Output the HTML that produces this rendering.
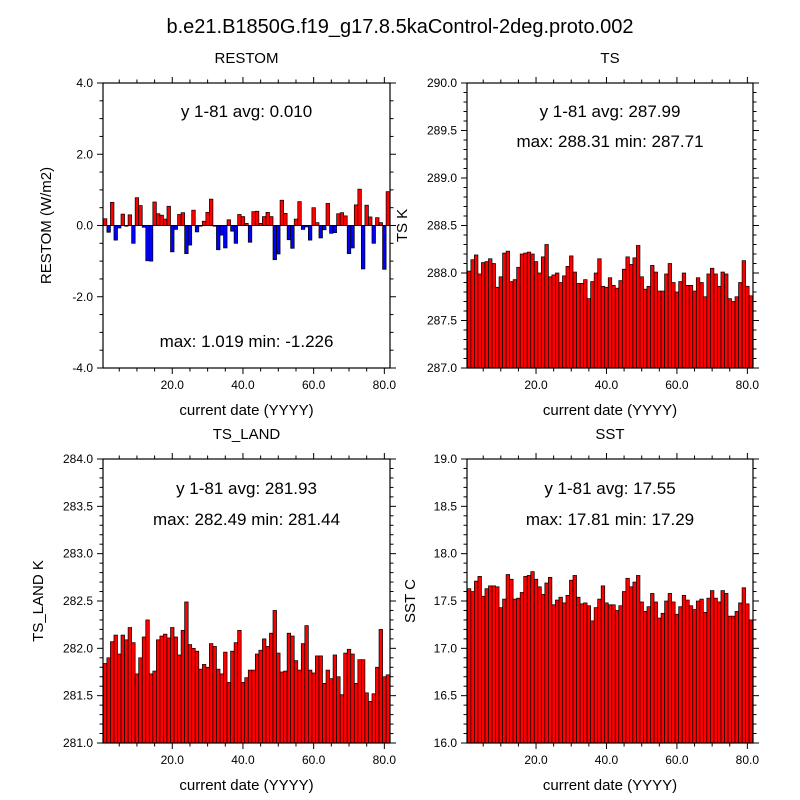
<!DOCTYPE html>
<html><head><meta charset="utf-8"><style>
html,body{margin:0;padding:0;background:#fff}
svg{display:block;font-family:"Liberation Sans",sans-serif}
</style></head><body>
<svg id="chart" width="800" height="800" viewBox="0 0 800 800">
<text x="400" y="33" font-size="20" text-anchor="middle">b.e21.B1850G.f19_g17.8.5kaControl-2deg.proto.002</text>
</svg>
<script>
const years = [];
for (let i = 1; i <= 81; i++) years.push(i);
const restomValues = [0.19,-0.19,0.65,-0.41,-0.07,0.32,-0.02,0.30,-0.5,0.78,0.56,-0.05,-0.99,-1.0,0.66,0.33,0.29,0.18,0.54,-0.74,-0.11,0.31,0.36,-0.79,-0.55,0.43,-0.18,-0.02,0.12,0.37,0.74,-0.02,-0.68,-0.27,-0.63,0.16,-0.16,-0.5,0.31,0.25,0.06,-0.47,0.39,0.4,0.06,0.25,0.37,0.25,-0.96,-0.8,0.71,0.34,-0.4,-0.64,0.18,0.67,-0.11,-0.04,-0.41,0.5,0.08,-0.35,-0.12,0.62,-0.22,-0.2,0.33,0.36,0.27,-0.79,-0.63,0.58,1.02,-1.22,0.57,0.24,-0.5,0.22,0.08,-1.23,0.95];
const tsValues = [288.02,288.14,288.19,287.99,288.11,288.12,288.15,288.10,287.85,287.96,288.21,288.23,287.91,287.93,288.06,288.20,288.21,288.22,288.20,288.12,288.00,288.17,288.30,287.96,287.98,288.00,287.90,287.97,288.07,288.18,288.01,287.89,287.89,287.93,287.73,287.91,288.00,288.15,287.86,287.85,287.95,287.87,287.84,287.92,288.04,288.17,288.09,288.16,288.29,287.96,287.83,287.86,288.08,288.01,287.81,287.81,287.99,288.10,287.90,287.80,287.91,288.00,287.87,287.87,287.81,287.95,287.90,287.75,287.99,288.05,287.99,287.86,288.01,287.99,287.73,287.70,287.75,287.90,288.13,287.86,287.76];
const tsLandValues = [281.84,281.90,282.07,282.14,281.94,282.14,282.09,282.22,282.06,281.73,281.90,282.12,282.30,281.73,281.76,282.09,282.13,282.15,282.11,282.22,282.12,281.93,282.19,282.49,282.04,282.00,281.97,281.78,281.83,281.80,282.05,282.02,281.78,281.73,281.96,281.64,281.97,282.06,282.19,281.64,281.69,281.77,281.77,281.94,281.98,282.10,282.02,282.16,282.40,281.95,281.75,281.76,282.16,282.13,281.87,281.77,282.05,282.24,281.77,281.74,281.92,281.92,281.63,281.77,281.68,281.93,281.70,281.51,281.95,281.99,281.94,281.63,281.88,281.88,281.53,281.44,281.52,281.80,282.20,281.70,281.72];
const sstValues = [17.63,17.60,17.71,17.76,17.55,17.63,17.66,17.66,17.65,17.43,17.52,17.78,17.73,17.52,17.53,17.59,17.76,17.77,17.81,17.73,17.65,17.57,17.69,17.75,17.46,17.51,17.54,17.48,17.56,17.72,17.77,17.54,17.47,17.48,17.45,17.29,17.43,17.52,17.66,17.48,17.46,17.46,17.40,17.45,17.60,17.74,17.65,17.70,17.77,17.49,17.39,17.44,17.58,17.49,17.32,17.37,17.50,17.58,17.49,17.36,17.44,17.56,17.51,17.45,17.41,17.50,17.52,17.38,17.53,17.61,17.53,17.49,17.61,17.58,17.34,17.34,17.39,17.48,17.64,17.47,17.30];
const xTickValues = [20, 40, 60, 80];
const xTickLabels = ["20.0", "40.0", "60.0", "80.0"];
const restomTicks = [4, 2, 0, -2, -4];
const restomTickLabels = ["4.0", "2.0", "0.0", "-2.0", "-4.0"];
const tsTicks = [287, 287.5, 288, 288.5, 289, 289.5, 290];
const tsTickLabels = ["287.0","287.5","288.0","288.5","289.0","289.5","290.0"];
const tsLandTicks = [281, 281.5, 282, 282.5, 283, 283.5, 284];
const tsLandTickLabels = ["281.0","281.5","282.0","282.5","283.0","283.5","284.0"];
const sstTicks = [16, 16.5, 17, 17.5, 18, 18.5, 19];
const sstTickLabels = ["16.0","16.5","17.0","17.5","18.0","18.5","19.0"];

const NS = "http://www.w3.org/2000/svg";
const svg = document.getElementById("chart");
function mk(tag, attrs, parent) {
  const e = document.createElementNS(NS, tag);
  for (const k in attrs) e.setAttribute(k, attrs[k]);
  (parent || svg).appendChild(e);
  return e;
}
const XMIN = 0.4, XMAX = 81.6;

function panel(o) {
  const g = mk("g", {});
  
  
  const L = o.x0, R = o.x1, T = o.y0, B = o.y1;
  const xs = v => L + (v - XMIN) / (XMAX - XMIN) * (R - L);
  const ys = v => B - (v - o.ymin) / (o.ymax - o.ymin) * (B - T);
  const bw = (R - L) / (XMAX - XMIN);
  const clipId = "clip-" + o.name;
  const cp = mk("clipPath", { id: clipId }, g);
  mk("rect", { x: L, y: T, width: R - L, height: B - T }, cp);
  const bars = mk("g", { "clip-path": "url(#" + clipId + ")" }, g);
  
  
  o.values.forEach((v, i) => {
    const base = o.base !== undefined ? o.base : o.ymin;
    const y1 = ys(v), y0 = ys(base);
    const col = o.base !== undefined ? (v >= 0 ? "#ff0000" : "#0000ff") : "#ff0000";
    const r = mk("rect", { x: xs(years[i]) - bw / 2, y: Math.min(y0, y1), width: bw, height: Math.abs(y1 - y0), fill: col, stroke: "#000", "stroke-width": 0.7 }, bars);
    
    
  });
  if (o.base !== undefined) mk("line", { x1: L, x2: R, y1: ys(o.base), y2: ys(o.base), stroke: "#000", "stroke-width": 1 }, g);
  const fr = mk("rect", { x: L, y: T, width: R - L, height: B - T, fill: "none", stroke: "#000", "stroke-width": 1.2 }, g);
  
  
  // x ticks
  for (let v = 5; v <= 80; v += 5) {
    const maj = v % 20 === 0, len = maj ? 6 : 3.5, x = xs(v);
    mk("line", { x1: x, x2: x, y1: B, y2: B + len, stroke: "#000", "stroke-width": 1 }, g);
    mk("line", { x1: x, x2: x, y1: T, y2: T - len, stroke: "#000", "stroke-width": 1 }, g);
  }
  xTickValues.forEach((v, i) => {
    const t = mk("text", { x: xs(v), y: B + 21, "font-size": 12, "text-anchor": "middle" }, g);
    t.textContent = xTickLabels[i];
    
    
  });
  // y ticks
  const n = Math.round((o.ymax - o.ymin) / o.minor);
  for (let k = 0; k <= n; k++) {
    const v = o.ymin + k * o.minor, y = ys(v);
    const maj = Math.abs(((v - o.ymin) / o.major) - Math.round((v - o.ymin) / o.major)) < 1e-6;
    const len = maj ? 6 : 3.5;
    mk("line", { x1: L, x2: L - len, y1: y, y2: y, stroke: "#000", "stroke-width": 1 }, g);
    mk("line", { x1: R, x2: R + len, y1: y, y2: y, stroke: "#000", "stroke-width": 1 }, g);
  }
  o.ticks.forEach((v, i) => {
    const t = mk("text", { x: L - 10, y: ys(v) + 4, "font-size": 12, "text-anchor": "end" }, g);
    t.textContent = o.tickLabels[i];
    
    
  });
  const cx = (L + R) / 2;
  const pt = mk("text", { x: cx, y: T - 20, "font-size": 15, "text-anchor": "middle" }, g);
  pt.textContent = o.title;
  
  
  const xt = mk("text", { x: cx, y: B + 47, "font-size": 15, "text-anchor": "middle" }, g);
  xt.textContent = "current date (YYYY)";
  
  
  const yt = mk("text", { x: 0, y: 0, "font-size": 15, "text-anchor": "middle", transform: "translate(" + o.ytx + "," + ((T + B) / 2) + ") rotate(-90)" }, g);
  yt.textContent = o.ytitle;
  
  
  o.notes.forEach((s, i) => {
    const t = mk("text", { x: cx, y: o.noteY[i], "font-size": 17, "text-anchor": "middle" }, g);
    t.textContent = s;
    
    
  });
}

panel({ name: "restom", x0: 103, x1: 390, y0: 83, y1: 368, ymin: -4, ymax: 4, base: 0, major: 2, minor: 0.5,
  values: restomValues, ticks: restomTicks, tickLabels: restomTickLabels, title: "RESTOM", ytitle: "RESTOM (W/m2)", ytx: 51,
  notes: ["y 1-81 avg: 0.010", "max: 1.019 min: -1.226"], noteY: [117, 347] });
panel({ name: "ts", x0: 467, x1: 753, y0: 83, y1: 368, ymin: 287, ymax: 290, major: 0.5, minor: 0.1,
  values: tsValues, ticks: tsTicks, tickLabels: tsTickLabels, title: "TS", ytitle: "TS K", ytx: 407,
  notes: ["y 1-81 avg: 287.99", "max: 288.31 min: 287.71"], noteY: [117, 147] });
panel({ name: "ts-land", x0: 103, x1: 390, y0: 459, y1: 743, ymin: 281, ymax: 284, major: 0.5, minor: 0.1,
  values: tsLandValues, ticks: tsLandTicks, tickLabels: tsLandTickLabels, title: "TS_LAND", ytitle: "TS_LAND K", ytx: 43,
  notes: ["y 1-81 avg: 281.93", "max: 282.49 min: 281.44"], noteY: [494, 525] });
panel({ name: "sst", x0: 467, x1: 753, y0: 459, y1: 743, ymin: 16, ymax: 19, major: 0.5, minor: 0.1,
  values: sstValues, ticks: sstTicks, tickLabels: sstTickLabels, title: "SST", ytitle: "SST C", ytx: 415,
  notes: ["y 1-81 avg: 17.55", "max: 17.81 min: 17.29"], noteY: [494, 525] });
</script>
</body></html>
